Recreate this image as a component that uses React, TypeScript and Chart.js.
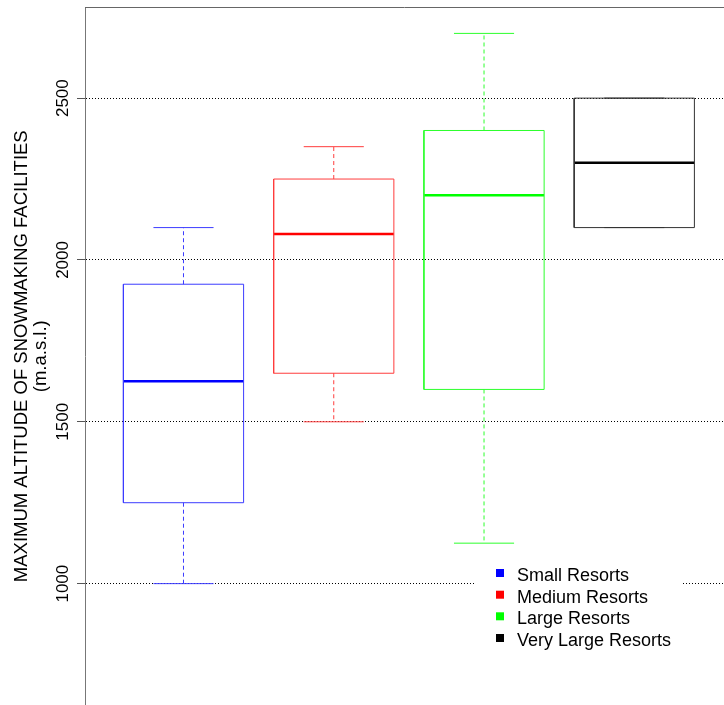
import React, { useEffect, useRef } from "react";
import { Chart, registerables } from "chart.js";

Chart.register(...registerables);

// ---- data ----
const categories = ["Small Resorts", "Medium Resorts", "Large Resorts", "Very Large Resorts"];
const seriesColors = ["#0000ff", "#ff0000", "#00ff00", "#000000"];
const thinColors = ["#3c3cff", "#ff3c3c", "#2cff2c", "#333333"];
const whiskerLow = [1000, 1500, 1125, 2100];
const q1 = [1250, 1650, 1600, 2100];
const median = [1625, 2080, 2200, 2300];
const q3 = [1925, 2250, 2400, 2500];
const whiskerHigh = [2100, 2350, 2700, 2500];
const yTicks = [1000, 1500, 2000, 2500];
const yTitle = ["MAXIMUM ALTITUDE OF SNOWMAKING FACILITIES", "(m.a.s.l.)"];

// ---- styles ----
const BOX_HALF = 0.4;
const CAP_HALF = 0.2;
const FONT = '"Liberation Sans", Arial, sans-serif';

function buildDatasets() {
  const ds: any[] = [];
  categories.forEach((_, g) => {
    const x = g + 1;
    const c = thinColors[g];
    const base = {
      showLine: true,
      pointRadius: 0,
      pointHoverRadius: 0,
      fill: false,
      tension: 0,
      spanGaps: false,
      borderColor: c,
      backgroundColor: c,
    };
    // whiskers
    ds.push({
      ...base,
      label: categories[g] + " whiskers",
      borderWidth: 1,
      borderDash: [4, 3],
      data: [
        { x, y: q3[g] },
        { x, y: whiskerHigh[g] },
        { x, y: null },
        { x, y: q1[g] },
        { x, y: whiskerLow[g] },
      ],
    });
    // caps
    ds.push({
      ...base,
      label: categories[g] + " caps",
      borderWidth: 1,
      data: [
        { x: x - CAP_HALF, y: whiskerHigh[g] },
        { x: x + CAP_HALF, y: whiskerHigh[g] },
        { x: x, y: null },
        { x: x - CAP_HALF, y: whiskerLow[g] },
        { x: x + CAP_HALF, y: whiskerLow[g] },
      ],
    });
    // box
    ds.push({
      ...base,
      label: categories[g] + " box",
      borderWidth: 1,
      data: [
        { x: x - BOX_HALF, y: q1[g] },
        { x: x + BOX_HALF, y: q1[g] },
        { x: x + BOX_HALF, y: q3[g] },
        { x: x - BOX_HALF, y: q3[g] },
        { x: x - BOX_HALF, y: q1[g] },
      ],
    });
    // median
    ds.push({
      ...base,
      label: categories[g] + " median",
      borderWidth: 2.5,
      borderColor: seriesColors[g],
      borderCapStyle: "butt",
      data: [
        { x: x - BOX_HALF, y: median[g] },
        { x: x + BOX_HALF, y: median[g] },
      ],
    });
  });
  return ds;
}

const decorPlugin = {
  id: "decor",
  afterDraw(chart: any) {
    const { ctx, chartArea, scales } = chart;
    const y = scales.y;
    ctx.save();
    // top border
    ctx.strokeStyle = "#666666";
    ctx.lineWidth = 1;
    ctx.beginPath();
    ctx.moveTo(chartArea.left, chartArea.top);
    ctx.lineTo(chartArea.right, chartArea.top);
    ctx.stroke();

    // tick labels (rotated)
    ctx.fillStyle = "#000";
    ctx.font = `17px ${FONT}`;
    ctx.textAlign = "center";
    ctx.textBaseline = "alphabetic";
    yTicks.forEach((v) => {
      const py = y.getPixelForValue(v);
      ctx.save();
      ctx.translate(68, py);
      ctx.rotate(-Math.PI / 2);
      ctx.fillText(String(v), 0, 0);
      ctx.restore();
    });

    // axis title
    const cy = (chartArea.top + chartArea.bottom) / 2;
    ctx.font = `18.5px ${FONT}`;
    const baselines = [27, 46];
    yTitle.forEach((t, i) => {
      ctx.save();
      ctx.translate(baselines[i], cy);
      ctx.rotate(-Math.PI / 2);
      ctx.fillText(t, 0, 0);
      ctx.restore();
    });

    // legend
    ctx.fillStyle = "#ffffff";
    ctx.fillRect(475, 560, 207, 95);
    ctx.font = `18px ${FONT}`;
    ctx.textAlign = "left";
    const legendBase = [581, 602.7, 624.3, 646];
    categories.forEach((name, i) => {
      ctx.fillStyle = seriesColors[i];
      ctx.fillRect(496, legendBase[i] - 12, 8, 8);
      ctx.fillStyle = "#000";
      ctx.fillText(name, 517, legendBase[i]);
    });
    ctx.restore();
  },
};

export default function App() {
  const ref = useRef<HTMLCanvasElement | null>(null);
  useEffect(() => {
    if (!ref.current) return;
    const chart = new Chart(ref.current, {
      type: "scatter",
      data: { datasets: buildDatasets() },
      options: {
        animation: false,
        responsive: false,
        devicePixelRatio: 1,
        layout: { padding: { top: 7.5, left: 0, right: 0, bottom: 0 } },
        plugins: {
          legend: { display: false },
          tooltip: { enabled: false },
          title: { display: false },
        },
        scales: {
          x: {
            type: "linear",
            min: 0.3445,
            max: 4.597,
            display: false,
          },
          y: {
            type: "linear",
            position: "left",
            min: 625,
            max: 2780,
            afterBuildTicks: (scale: any) => {
              scale.ticks = yTicks.map((v) => ({ value: v }));
            },
            afterFit: (scale: any) => {
              scale.width = 85;
            },
            ticks: { display: false },
            title: { display: false },
            grid: {
              color: "#000000",
              lineWidth: 1,
              drawTicks: true,
              tickLength: 8,
              tickColor: "#555555",
              tickWidth: 1,
              tickBorderDash: [],
            },
            border: { display: true, color: "#777777", width: 1, dash: [1, 2] },
          },
        },
      } as any,
      plugins: [decorPlugin],
    });
    return () => chart.destroy();
  }, []);
  return (
    <div style={{ position: "absolute", left: 0, top: 0, width: 724, height: 705, background: "#fff" }}>
      <canvas ref={ref} width={724} height={705} style={{ display: "block" }} />
    </div>
  );
}
